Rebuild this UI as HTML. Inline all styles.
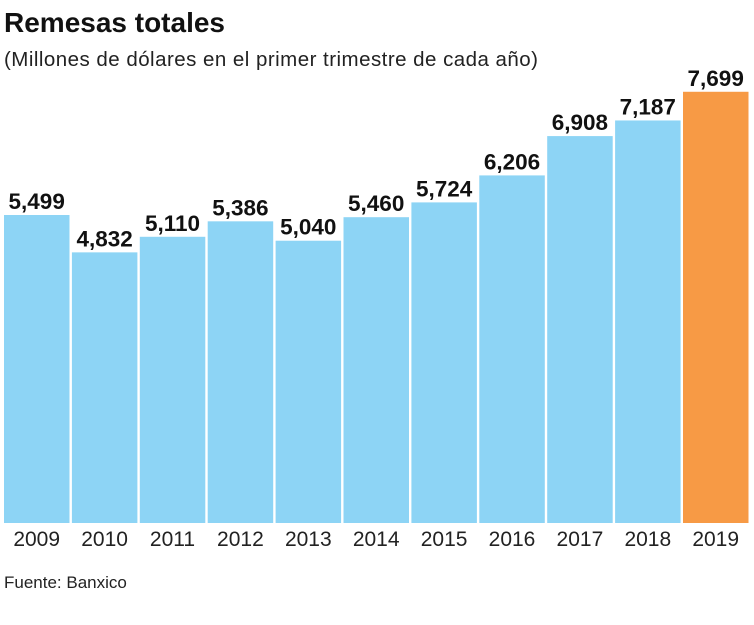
<!DOCTYPE html>
<html><head><meta charset="utf-8"><style>
body{margin:0;width:754px;height:620px;background:#fff;overflow:hidden;font-family:"Liberation Sans",sans-serif;}
</style></head><body>
<svg width="754" height="620" xmlns="http://www.w3.org/2000/svg">
<text x="4" y="32" font-weight="bold" font-size="28" fill="#111">Remesas totales</text>
<text x="4" y="66" font-size="20.5" fill="#222" textLength="534">(Millones de dólares en el primer trimestre de cada año)</text>
<g id="bars"></g>
<text x="4" y="588" font-size="17" fill="#222">Fuente: Banxico</text>
</svg>
<script>
var v=[5499,4832,5110,5386,5040,5460,5724,6206,6908,7187,7699];
var g=document.getElementById('bars'),s='';
for(var i=0;i<11;i++){var x=4+i*67.9,h=v[i]*0.05601,y=523-h;
s+='<rect x="'+x+'" y="'+y+'" width="65.5" height="'+h+'" fill="'+(i==10?'#f79a45':'#8dd4f5')+'"/>';
s+='<text x="'+(x+32.7)+'" y="'+(y-6)+'" text-anchor="middle" font-weight="bold" font-size="22.5" fill="#111">'+v[i].toLocaleString('en-US')+'</text>';
s+='<text x="'+(x+32.7)+'" y="546" text-anchor="middle" font-size="21" fill="#222">'+(2009+i)+'</text>';}
g.innerHTML=s;
</script>
</body></html>
